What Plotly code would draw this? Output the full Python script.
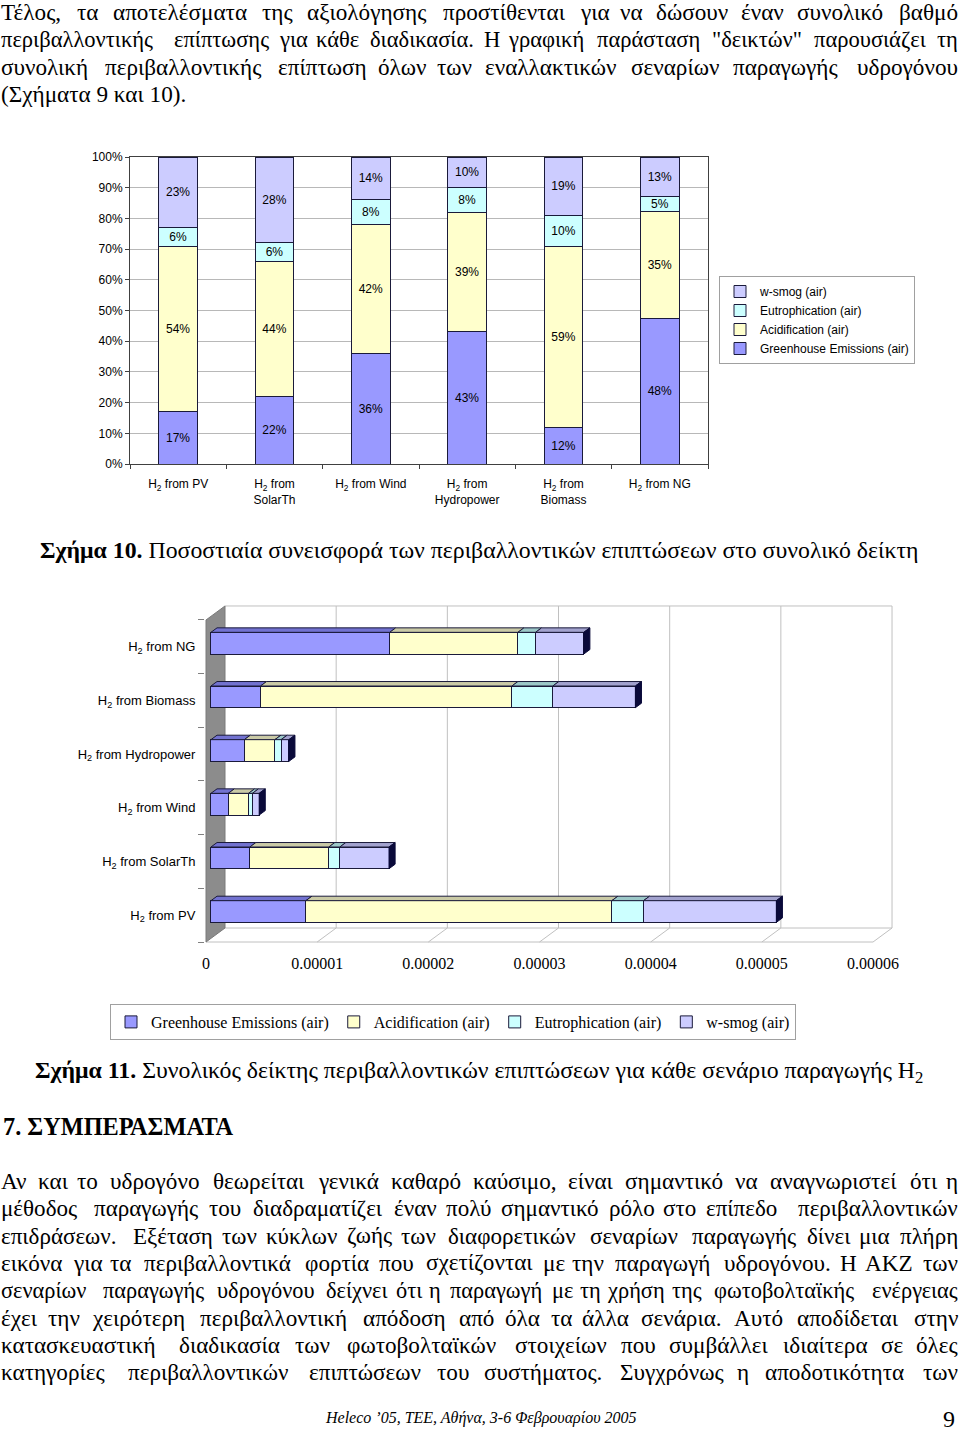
import unicodedata
import plotly.graph_objects as go

W, H = 960, 1432

# ---------------- data ----------------
series = ["Greenhouse Emissions (air)", "Acidification (air)",
          "Eutrophication (air)", "w-smog (air)"]
colors = ["#9999FF", "#FFFFCC", "#CCFFFF", "#CCCCFF"]
top_colors = ["#7272D0", "#CACAA6", "#9CC8C8", "#A2A2CE"]

fig10_categories = ["H<sub>2</sub> from PV", "H<sub>2</sub> from<br>SolarTh",
                    "H<sub>2</sub> from Wind", "H<sub>2</sub> from<br>Hydropower",
                    "H<sub>2</sub> from<br>Biomass", "H<sub>2</sub> from NG"]
pct_greenhouse = [17, 22, 36, 43, 12, 48]
pct_acidification = [54, 44, 42, 39, 59, 35]
pct_eutrophication = [6, 6, 8, 8, 10, 5]
pct_wsmog = [23, 28, 14, 10, 19, 13]

fig11_categories = ["H<sub>2</sub> from PV", "H<sub>2</sub> from SolarTh",
                    "H<sub>2</sub> from Wind", "H<sub>2</sub> from Hydropower",
                    "H<sub>2</sub> from Biomass", "H<sub>2</sub> from NG"]
abs_greenhouse = [0.854e-5, 0.350e-5, 0.156e-5, 0.300e-5, 0.446e-5, 1.608e-5]
abs_acidification = [2.752e-5, 0.710e-5, 0.182e-5, 0.275e-5, 2.261e-5, 1.153e-5]
abs_eutrophication = [0.285e-5, 0.099e-5, 0.035e-5, 0.056e-5, 0.368e-5, 0.159e-5]
abs_wsmog = [1.195e-5, 0.443e-5, 0.061e-5, 0.070e-5, 0.743e-5, 0.434e-5]
fig11_tickvals = [0, 1e-5, 2e-5, 3e-5, 4e-5, 5e-5, 6e-5]
fig11_ticktext = ["0", "0.00001", "0.00002", "0.00003", "0.00004", "0.00005", "0.00006"]

para1 = ["Τέλος, τα αποτελέσματα της αξιολόγησης προστίθενται για να δώσουν έναν συνολικό βαθμό",
         "περιβαλλοντικής επίπτωσης για κάθε διαδικασία. Η γραφική παράσταση \"δεικτών\" παρουσιάζει τη",
         "συνολική περιβαλλοντικής επίπτωση όλων των εναλλακτικών σεναρίων παραγωγής υδρογόνου"]
para1_last = "(Σχήματα 9 και 10)."
para2 = ["Αν και το υδρογόνο θεωρείται γενικά καθαρό καύσιμο, είναι σημαντικό να αναγνωριστεί ότι η",
         "μέθοδος παραγωγής του διαδραματίζει έναν πολύ σημαντικό ρόλο στο επίπεδο περιβαλλοντικών",
         "επιδράσεων. Εξέταση των κύκλων ζωής των διαφορετικών σεναρίων παραγωγής δίνει μια πλήρη",
         "εικόνα για τα περιβαλλοντικά φορτία που σχετίζονται με την παραγωγή υδρογόνου. Η ΑΚΖ των",
         "σεναρίων παραγωγής υδρογόνου δείχνει ότι η παραγωγή με τη χρήση της φωτοβολταϊκής ενέργειας",
         "έχει την χειρότερη περιβαλλοντική απόδοση από όλα τα άλλα σενάρια. Αυτό αποδίδεται στην",
         "κατασκευαστική διαδικασία των φωτοβολταϊκών στοιχείων που συμβάλλει ιδιαίτερα σε όλες",
         "κατηγορίες περιβαλλοντικών επιπτώσεων του συστήματος. Συγχρόνως η αποδοτικότητα των"]
caption10 = "<b>Σχήμα 10.</b> Ποσοστιαία συνεισφορά των περιβαλλοντικών επιπτώσεων στο συνολικό δείκτη"
caption11 = "<b>Σχήμα 11.</b> Συνολικός δείκτης περιβαλλοντικών επιπτώσεων για κάθε σενάριο παραγωγής H<sub>2</sub>"
heading = "<b>7. ΣΥΜΠΕΡΑΣΜΑΤΑ</b>"
footer = "<i>Heleco ’05, ΤΕΕ, Αθήνα, 3-6 Φεβρουαρίου 2005</i>"
page_no = "9"

SERIF = "Liberation Serif, Times New Roman, serif"
SANS = "Liberation Sans, Arial, sans-serif"
OUTLINE = "#1a1a3a"
BODY = 23.2
CAPTION = 23.8

fig = go.Figure()

# ---------------- Figure 10: 100% stacked columns ----------------
pct_lists = [pct_greenhouse, pct_acidification, pct_eutrophication, pct_wsmog]
totals = [sum(v[i] for v in pct_lists) for i in range(len(fig10_categories))]
for name, vals, col in zip(series, pct_lists, colors):
    fig.add_trace(go.Bar(
        x=fig10_categories, y=[v / t * 100 for v, t in zip(vals, totals)],
        name=name, width=0.4,
        marker=dict(color=col, line=dict(color=OUTLINE, width=1)),
        text=[f"{v}%" for v in vals], textposition="inside",
        insidetextanchor="middle", textangle=0, constraintext="none",
        textfont=dict(family=SANS, size=12, color="black"),
        hoverinfo="skip", legend="legend", xaxis="x", yaxis="y"))

# ---------------- Figure 11: pseudo-3D stacked horizontal bars ----------------
X0_PX, PX_PER_1E5 = 206.0, 111.17
FLOOR_PX, SLOT_PX = 942.0, 53.67
DX = 19.0 / PX_PER_1E5 * 1e-5      # full depth, x data units
DY = 14.0 / SLOT_PX                # full depth, y data units
F_DEPTH, B_DEPTH = 0.26, 0.58      # bar front/back face depth
HH = 0.202                         # half bar thickness (category units)
n = len(fig11_categories)
yc = [i + 0.5 + F_DEPTH * DY for i in range(n)]
off = F_DEPTH * DX
ddx = (B_DEPTH - F_DEPTH) * DX
ddy = (B_DEPTH - F_DEPTH) * DY

fig.add_trace(go.Bar(x=[off] * n, y=yc, orientation="h", width=2 * HH,
                     marker=dict(color="rgba(0,0,0,0)", line=dict(width=0)),
                     showlegend=False, hoverinfo="skip", xaxis="x2", yaxis="y2"))
abs_lists = [abs_greenhouse, abs_acidification, abs_eutrophication, abs_wsmog]
for name, vals, col in zip(series, abs_lists, colors):
    fig.add_trace(go.Bar(x=vals, y=yc, orientation="h", width=2 * HH, name=name,
                         marker=dict(color=col, line=dict(color=OUTLINE, width=1)),
                         hoverinfo="skip", legend="legend2", xaxis="x2", yaxis="y2"))

cum = [off] * n
for vals, tcol in zip(abs_lists, top_colors):
    xs, ys = [], []
    for i in range(n):
        x0, x1 = cum[i], cum[i] + vals[i]
        yt = yc[i] + HH
        xs += [x0, x1, x1 + ddx, x0 + ddx, x0, None]
        ys += [yt, yt, yt + ddy, yt + ddy, yt, None]
        cum[i] = x1
    fig.add_trace(go.Scatter(x=xs, y=ys, mode="lines", fill="toself", fillcolor=tcol,
                             line=dict(color=OUTLINE, width=1), showlegend=False,
                             hoverinfo="skip", xaxis="x2", yaxis="y2"))
xs, ys = [], []
for i in range(n):
    xe = cum[i]
    xs += [xe, xe, xe + ddx, xe + ddx, xe, None]
    ys += [yc[i] - HH, yc[i] + HH, yc[i] + HH + ddy, yc[i] - HH + ddy, yc[i] - HH, None]
fig.add_trace(go.Scatter(x=xs, y=ys, mode="lines", fill="toself", fillcolor="#0a0a3a",
                         line=dict(color="#0a0a3a", width=1), showlegend=False,
                         hoverinfo="skip", xaxis="x2", yaxis="y2"))

# walls / gridlines of the 3D frame (below traces)
def pth(pts):
    return "M " + " L ".join(f"{x:.12f},{y:.6f}" for x, y in pts) + " Z"

shapes = []
xmax = fig11_tickvals[-1]
GRID = dict(color="#c0c0c0", width=1)
for t in fig11_tickvals[1:]:
    shapes.append(dict(type="line", xref="x2", yref="y2", x0=t + DX, x1=t + DX,
                       y0=DY, y1=n + DY, line=GRID, layer="below"))
    shapes.append(dict(type="line", xref="x2", yref="y2", x0=t, x1=t + DX,
                       y0=0, y1=DY, line=GRID, layer="below"))
shapes.append(dict(type="line", xref="x2", yref="y2", x0=DX, x1=xmax + DX,
                   y0=n + DY, y1=n + DY, line=GRID, layer="below"))
shapes.append(dict(type="line", xref="x2", yref="y2", x0=DX, x1=xmax + DX,
                   y0=DY, y1=DY, line=GRID, layer="below"))
shapes.append(dict(type="line", xref="x2", yref="y2", x0=0, x1=xmax,
                   y0=0, y1=0, line=GRID, layer="below"))
shapes.append(dict(type="path", xref="x2", yref="y2",
                   path=pth([(0, 0), (0, n), (DX, n + DY), (DX, DY)]),
                   fillcolor="#8c8c8c", line=dict(color="#7a7a7a", width=1), layer="below"))

# ---------------- text ----------------
CW = {' ': .25, 'a': .444, 'b': .5, 'c': .444, 'd': .5, 'e': .444, 'f': .333, 'g': .5,
      'h': .5, 'i': .278, 'j': .278, 'k': .5, 'l': .278, 'm': .778, 'n': .5, 'o': .5,
      'p': .5, 'q': .5, 'r': .333, 's': .389, 't': .278, 'u': .5, 'v': .5, 'w': .722,
      'x': .5, 'y': .5, 'z': .444, '.': .25, ',': .25, '(': .333, ')': .333, '"': .408,
      'α': .53, 'β': .5, 'γ': .45, 'δ': .49, 'ε': .41, 'ζ': .42, 'η': .5, 'θ': .49,
      'ι': .27, 'κ': .49, 'λ': .47, 'μ': .53, 'ν': .45, 'ξ': .42, 'ο': .5, 'π': .54,
      'ρ': .5, 'σ': .53, 'ς': .42, 'τ': .41, 'υ': .48, 'φ': .63, 'χ': .45, 'ψ': .65,
      'ω': .67, 'Α': .72, 'Β': .67, 'Γ': .58, 'Δ': .64, 'Ε': .61, 'Ζ': .61, 'Η': .72,
      'Θ': .72, 'Ι': .33, 'Κ': .72, 'Λ': .7, 'Μ': .89, 'Ν': .72, 'Ξ': .62, 'Ο': .72,
      'Π': .72, 'Ρ': .56, 'Σ': .6, 'Τ': .61, 'Υ': .72, 'Φ': .77, 'Χ': .72, 'Ψ': .78,
      'Ω': .77}
GREEK_FUDGE = 1.075
PAD_L, PAD_R = 2.0, 2.0   # annotation box padding compensation

def est_width(s, size):
    tot = 0.0
    for ch in s:
        b = unicodedata.normalize("NFD", ch)[0]
        w = CW.get(b, 0.5)
        if 0x370 <= ord(b) <= 0x3FF:
            w *= GREEK_FUDGE
        tot += w
    return tot * size

ann = []
def add_text(text, xpx, ypx, size=BODY, anchor="left", font=SERIF):
    if anchor == "left":
        xpx -= PAD_L
    elif anchor == "right":
        xpx += PAD_R
    ann.append(dict(x=xpx / W, y=1 - ypx / H, xref="paper", yref="paper", text=text,
                    showarrow=False, xanchor=anchor, yanchor="middle",
                    font=dict(family=font, size=size, color="black")))

def justify(line, ypx, size=BODY, left=1.0, right=958.0):
    words = line.split()
    min_gap = 0.22 * size
    avail = right - left
    natural = est_width("".join(words), size)
    need = natural + (len(words) - 1) * min_gap
    if need > avail:
        size = size * (avail - (len(words) - 1) * min_gap) / natural
        min_gap = 0.22 * size
    ws = [est_width(w, size) for w in words]
    gap = max((avail - sum(ws)) / (len(words) - 1), min_gap)
    x = left
    for k, (w, wd) in enumerate(zip(words, ws)):
        if k == 0:
            add_text(w, left, ypx, size, "left")
        elif k == len(words) - 1:
            add_text(w, right, ypx, size, "right")
        else:
            add_text(w, x + wd / 2, ypx, size, "center")
        x += wd + gap

for k, line in enumerate(para1):
    justify(line, 12 + 27.4 * k)
add_text(para1_last, 1, 12 + 27.4 * 3)
add_text(caption10, 40, 550, size=CAPTION)
add_text(caption11, 35, 1072, size=CAPTION)
add_text(heading, 3, 1126, size=24.3)
for k, line in enumerate(para2):
    justify(line, 1181 + 27.3 * k)
add_text(footer, 481, 1418, size=16, anchor="center")
add_text(page_no, 949, 1419, size=24, anchor="center")

# ---------------- layout ----------------
fig.update_layout(
    width=W, height=H, margin=dict(l=0, r=0, t=0, b=0, pad=0, autoexpand=False),
    paper_bgcolor="white", plot_bgcolor="white", barmode="stack",
    font=dict(family=SANS, size=12, color="black"),
    xaxis=dict(domain=[130 / W, 708 / W], anchor="y", type="category",
               showline=True, linecolor="#404040", mirror=True, ticks="outside",
               tickson="boundaries", ticklen=4, tickcolor="#404040",
               tickfont=dict(family=SANS, size=12, color="black"), showgrid=False,
               ticklabelstandoff=9, automargin=False),
    yaxis=dict(domain=[1 - 464 / H, 1 - 157 / H], anchor="x", range=[0, 100],
               dtick=10, ticksuffix="%", showgrid=True, gridcolor="#b8b8b8",
               showline=True, linecolor="#404040", mirror=True, ticks="outside",
               ticklen=4, tickcolor="#404040", zeroline=False, automargin=False,
               tickfont=dict(family=SANS, size=12, color="black")),
    xaxis2=dict(domain=[205 / W, 900 / W], anchor="y2", automargin=False,
                range=[(205 - X0_PX) / PX_PER_1E5 * 1e-5, (900 - X0_PX) / PX_PER_1E5 * 1e-5],
                tickmode="array", tickvals=fig11_tickvals, ticktext=fig11_ticktext,
                showgrid=False, zeroline=False, showline=False, ticks="",
                tickfont=dict(family=SERIF, size=16, color="black")),
    yaxis2=dict(domain=[1 - 952 / H, 1 - 600 / H], anchor="x2", automargin=False,
                range=[(FLOOR_PX - 952) / SLOT_PX, (FLOOR_PX - 600) / SLOT_PX],
                tickmode="array", tickvals=[i + 0.5 for i in range(n)],
                ticktext=fig11_categories, showgrid=False, zeroline=False,
                showline=False, ticks="outside", ticklen=6, tickcolor="rgba(0,0,0,0)",
                minor=dict(tickmode="array", tickvals=list(range(n + 1)), ticks="outside",
                           ticklen=6, tickcolor="#808080", showgrid=False),
                tickfont=dict(family=SANS, size=13, color="black")),
    legend=dict(x=719 / W, y=1 - 276 / H, xanchor="left", yanchor="top",
                traceorder="reversed", bgcolor="white", bordercolor="#a0a0a0",
                borderwidth=1, font=dict(family=SANS, size=12, color="black"),
                itemwidth=30),
    legend2=dict(x=110 / W, y=1 - 1022 / H, xanchor="left", yanchor="middle",
                 orientation="h", traceorder="normal", bgcolor="white",
                 bordercolor="#a0a0a0", borderwidth=1,
                 font=dict(family=SERIF, size=16, color="black"), itemwidth=30),
    shapes=shapes, annotations=ann, showlegend=True,
)

PAGE_CSS = ("var s=document.createElement('style');"
            "s.textContent='html,body{margin:0!important;padding:0!important;"
            "height:1432px;overflow:hidden;}body>div{margin:0;padding:0;line-height:0;font-size:0;}';"
            "document.head.appendChild(s);")
fig.write_html("out.html", config={"displayModeBar": False}, post_script=PAGE_CSS)
